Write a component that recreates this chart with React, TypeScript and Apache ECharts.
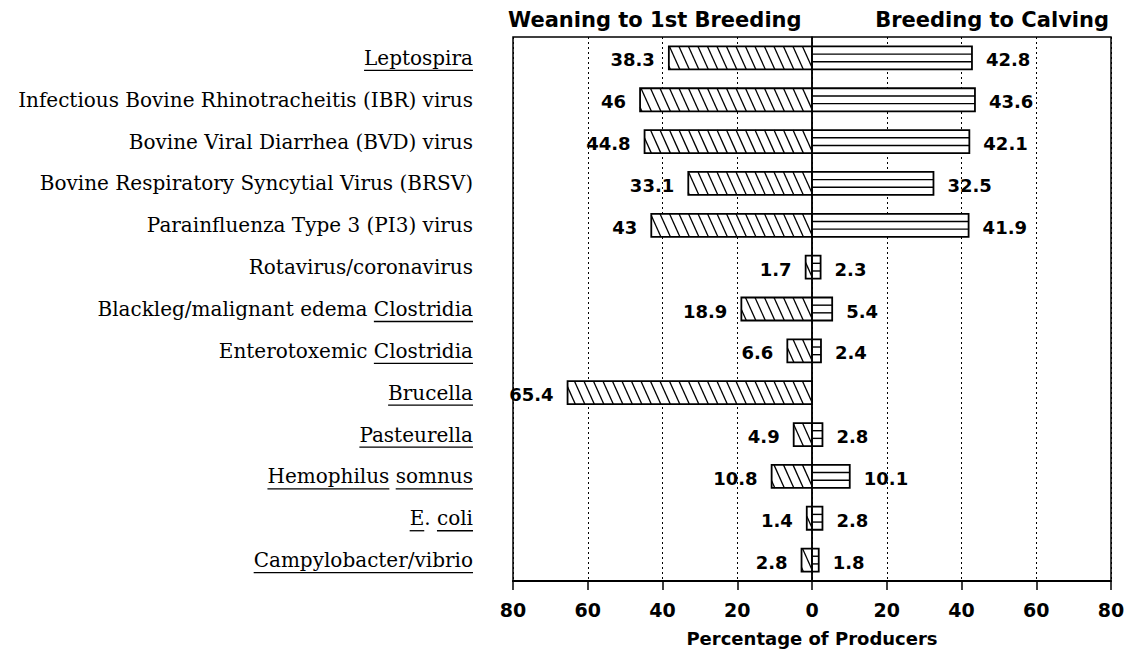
import React, { useEffect, useRef } from "react";
import * as echarts from "echarts";

const categories = [
  "Leptospira",
  "Infectious Bovine Rhinotracheitis (IBR) virus",
  "Bovine Viral Diarrhea (BVD) virus",
  "Bovine Respiratory Syncytial Virus (BRSV)",
  "Parainfluenza Type 3 (PI3) virus",
  "Rotavirus/coronavirus",
  "Blackleg/malignant edema Clostridia",
  "Enterotoxemic Clostridia",
  "Brucella",
  "Pasteurella",
  "Hemophilus somnus",
  "E. coli",
  "Campylobacter/vibrio",
];

const underlinedWords: string[][] = [
  ["Leptospira"],
  [],
  [],
  [],
  [],
  [],
  ["Clostridia"],
  ["Clostridia"],
  ["Brucella"],
  ["Pasteurella"],
  ["Hemophilus", "somnus"],
  ["E", "coli"],
  ["Campylobacter/vibrio"],
];

const weaningToBreeding = [38.3, 46, 44.8, 33.1, 43, 1.7, 18.9, 6.6, 65.4, 4.9, 10.8, 1.4, 2.8];
const breedingToCalving: (number | null)[] = [42.8, 43.6, 42.1, 32.5, 41.9, 2.3, 5.4, 2.4, null, 2.8, 10.1, 2.8, 1.8];

const leftTitle = "Weaning to 1st Breeding";
const rightTitle = "Breeding to Calving";
const axisName = "Percentage of Producers";
const xMin = -80;
const xMax = 80;
const xStep = 20;

const SANS = '"DejaVu Sans", sans-serif';
const SERIF = '"DejaVu Serif", serif';
const CAT_FONT_SIZE = 20;
const LABEL_MARGIN = 40;

export default function App() {
  const ref = useRef<HTMLDivElement>(null);

  useEffect(() => {
    if (!ref.current) return;
    const chart = echarts.init(ref.current, null, { renderer: "svg" });

    const barRatio = 0.55;

    const leftRender = (params: any, api: any) => {
      const v = api.value(0);
      const cat = api.value(1);
      if (v == null || isNaN(v)) return null;
      const p0 = api.coord([0, cat]);
      const p1 = api.coord([v, cat]);
      const bandH = api.size([0, 1])[1];
      const h = bandH * barRatio;
      const xL = Math.min(p0[0], p1[0]);
      const xR = Math.max(p0[0], p1[0]);
      const top = p0[1] - h / 2;
      const children: any[] = [
        {
          type: "rect",
          shape: { x: xL, y: top, width: xR - xL, height: h },
          style: { fill: "#fff", stroke: "#000", lineWidth: 1.8 },
        },
      ];
      const shift = h * 0.45;
      const spacing = 9.5;
      const n = Math.ceil((xR - xL + shift) / spacing);
      for (let k = 0; k <= n; k++) {
        const x0 = xR - k * spacing;
        const tmin = Math.max(0, (xL - x0) / shift);
        const tmax = Math.min(1, (xR - x0) / shift);
        if (tmax - tmin > 0.03) {
          children.push({
            type: "line",
            shape: {
              x1: x0 + shift * tmin,
              y1: top + h * tmin,
              x2: x0 + shift * tmax,
              y2: top + h * tmax,
            },
            style: { stroke: "#000", lineWidth: 1.3 },
          });
        }
      }
      children.push({
        type: "text",
        x: xL - 14,
        y: p0[1] + 2,
        style: {
          text: String(-v),
          align: "right",
          verticalAlign: "middle",
          fontFamily: SANS,
          fontWeight: "bold",
          fontSize: 18,
          fill: "#000",
        },
      });
      return { type: "group", children };
    };

    const rightRender = (params: any, api: any) => {
      const v = api.value(0);
      const cat = api.value(1);
      if (v == null || isNaN(v)) return null;
      const p0 = api.coord([0, cat]);
      const p1 = api.coord([v, cat]);
      const bandH = api.size([0, 1])[1];
      const h = bandH * barRatio;
      const xL = Math.min(p0[0], p1[0]);
      const xR = Math.max(p0[0], p1[0]);
      const top = p0[1] - h / 2;
      const children: any[] = [
        {
          type: "rect",
          shape: { x: xL, y: top, width: xR - xL, height: h },
          style: { fill: "#fff", stroke: "#000", lineWidth: 1.8 },
        },
        {
          type: "line",
          shape: { x1: xL, y1: top + h / 3, x2: xR, y2: top + h / 3 },
          style: { stroke: "#000", lineWidth: 1.4 },
        },
        {
          type: "line",
          shape: { x1: xL, y1: top + (2 * h) / 3, x2: xR, y2: top + (2 * h) / 3 },
          style: { stroke: "#000", lineWidth: 1.4 },
        },
        {
          type: "text",
          x: xR + 14,
          y: p0[1] + 2,
          style: {
            text: String(v),
            align: "left",
            verticalAlign: "middle",
            fontFamily: SANS,
            fontWeight: "bold",
            fontSize: 18,
            fill: "#000",
          },
        },
      ];
      return { type: "group", children };
    };

    const option: any = {
      animation: false,
      backgroundColor: "#fff",
      title: [
        {
          text: leftTitle,
          left: 508,
          top: 9,
          padding: 0,
          textStyle: { fontFamily: SANS, fontWeight: "bold", fontSize: 21, color: "#000" },
        },
        {
          text: rightTitle,
          right: 21,
          top: 9,
          padding: 0,
          textStyle: { fontFamily: SANS, fontWeight: "bold", fontSize: 21, color: "#000" },
        },
      ],
      grid: {
        left: 513,
        right: 19,
        top: 37,
        bottom: 68,
        show: true,
        borderColor: "#000",
        borderWidth: 1.5,
        backgroundColor: "transparent",
      },
      xAxis: {
        type: "value",
        min: xMin,
        max: xMax,
        interval: xStep,
        name: axisName,
        nameLocation: "middle",
        nameGap: 48,
        nameTextStyle: { fontFamily: SANS, fontWeight: "bold", fontSize: 18, color: "#000" },
        axisLine: { show: true, lineStyle: { color: "#000", width: 2 } },
        axisTick: { show: true, inside: false, length: 9, lineStyle: { color: "#000", width: 1.5 } },
        axisLabel: {
          margin: 19,
          fontFamily: SANS,
          fontWeight: "bold",
          fontSize: 19,
          color: "#000",
          formatter: (val: number) => String(Math.abs(val)),
        },
        splitLine: { show: true, lineStyle: { color: "#000", width: 1, type: [2, 3] } },
      },
      yAxis: {
        type: "category",
        data: categories,
        inverse: true,
        axisLine: { show: true, lineStyle: { color: "#000", width: 1.5 } },
        axisTick: { show: false },
        splitLine: { show: false },
        axisLabel: {
          margin: LABEL_MARGIN,
          fontFamily: SERIF,
          fontSize: CAT_FONT_SIZE,
          color: "#000",
          padding: [6, 0, 0, 0],
        },
      },
      series: [
        {
          name: leftTitle,
          type: "custom",
          renderItem: leftRender,
          encode: { x: 0, y: 1 },
          data: weaningToBreeding.map((v, i) => [-v, i]),
          z: 3,
          markLine: {
            silent: true,
            symbol: "none",
            label: { show: false },
            lineStyle: { color: "#000", type: "solid", width: 1.5 },
            data: [{ xAxis: 0 }],
          },
        },
        {
          name: rightTitle,
          type: "custom",
          renderItem: rightRender,
          encode: { x: 0, y: 1 },
          data: breedingToCalving.map((v, i) => [v == null ? NaN : v, i]),
          z: 3,
        },
      ],
    };

    chart.setOption(option);

    // underlines for scientific names in the category labels
    const canvas = document.createElement("canvas");
    const ctx = canvas.getContext("2d");
    if (ctx) {
      ctx.font = `${CAT_FONT_SIZE}px ${SERIF}`;
      const axisLeft = chart.convertToPixel({ xAxisIndex: 0 }, xMin) as number;
      const labelRight = axisLeft - LABEL_MARGIN;
      const elements: any[] = [];
      categories.forEach((cat, i) => {
        const words = underlinedWords[i];
        if (!words.length) return;
        const cy = chart.convertToPixel({ yAxisIndex: 0 }, i) as number;
        const full = ctx.measureText(cat).width;
        const startX = labelRight - full;
        let from = 0;
        words.forEach((w) => {
          const idx = cat.indexOf(w, from);
          if (idx < 0) return;
          from = idx + w.length;
          const x1 = startX + ctx.measureText(cat.slice(0, idx)).width;
          const x2 = startX + ctx.measureText(cat.slice(0, idx + w.length)).width;
          const y = cy + 12.5;
          elements.push({
            type: "line",
            silent: true,
            shape: { x1, y1: y, x2, y2: y },
            style: { stroke: "#000", lineWidth: 1.3 },
          });
        });
      });
      chart.setOption({ graphic: elements });
    }

    return () => {
      chart.dispose();
    };
  }, []);

  return (
    <div
      ref={ref}
      style={{ position: "absolute", left: 0, top: 0, width: 1130, height: 652, background: "#fff" }}
    />
  );
}
